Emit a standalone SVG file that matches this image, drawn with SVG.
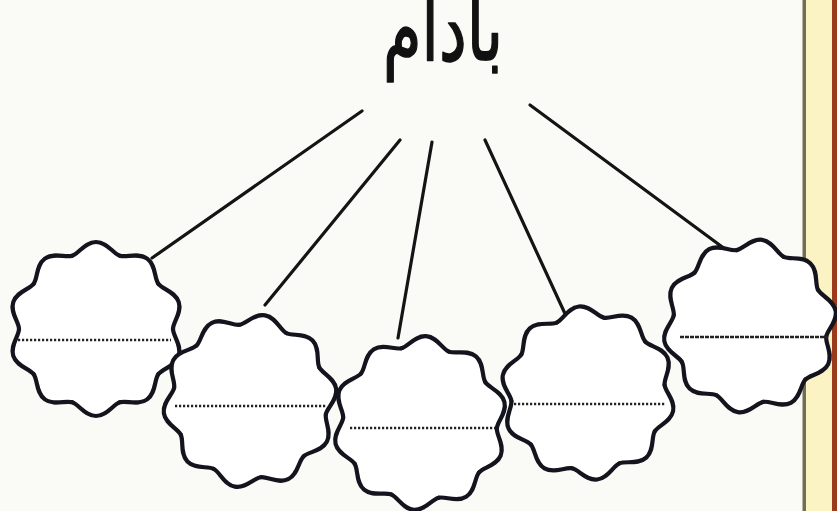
<svg xmlns="http://www.w3.org/2000/svg" xmlns:xlink="http://www.w3.org/1999/xlink" width="837" height="511" viewBox="0 0 837 511">
<style>
.wedge{fill:#ffffff;stroke:#ffffff;stroke-width:1}
.wave{fill:none;stroke:#14141e;stroke-width:4.2;stroke-linecap:round}
.dots{stroke:#222;stroke-width:2.6;stroke-dasharray:2.2 1.8;fill:none}
.con{stroke:#141414;stroke-width:3.2;fill:none;stroke-linecap:round}
.title{font-family:"DejaVu Sans","Noto Sans",sans-serif;font-size:90px;fill:#111;stroke:#111;stroke-width:1.6;stroke-linejoin:round;text-anchor:middle}
</style>
<defs>
<g id="lobe">
<path class="wedge" d="M0,0 L-23.795,-73.232 C-17.138,-75.395 -11,-87 0,-87 C11,-87 17.138,-75.395 23.795,-73.232 Z"/>
</g>
<g id="lobeline">
<path class="wave" d="M-23.795,-73.232 C-17.138,-75.395 -11,-87 0,-87 C11,-87 17.138,-75.395 23.795,-73.232"/>
</g>
<g id="flower">
<circle r="76" fill="#ffffff"/>
<use xlink:href="#lobe"/>
<use xlink:href="#lobe" transform="rotate(36)"/>
<use xlink:href="#lobe" transform="rotate(72)"/>
<use xlink:href="#lobe" transform="rotate(108)"/>
<use xlink:href="#lobe" transform="rotate(144)"/>
<use xlink:href="#lobe" transform="rotate(180)"/>
<use xlink:href="#lobe" transform="rotate(216)"/>
<use xlink:href="#lobe" transform="rotate(252)"/>
<use xlink:href="#lobe" transform="rotate(288)"/>
<use xlink:href="#lobe" transform="rotate(324)"/>
<use xlink:href="#lobeline"/>
<use xlink:href="#lobeline" transform="rotate(36)"/>
<use xlink:href="#lobeline" transform="rotate(72)"/>
<use xlink:href="#lobeline" transform="rotate(108)"/>
<use xlink:href="#lobeline" transform="rotate(144)"/>
<use xlink:href="#lobeline" transform="rotate(180)"/>
<use xlink:href="#lobeline" transform="rotate(216)"/>
<use xlink:href="#lobeline" transform="rotate(252)"/>
<use xlink:href="#lobeline" transform="rotate(288)"/>
<use xlink:href="#lobeline" transform="rotate(324)"/>
</g>
</defs>
<rect width="837" height="511" fill="#fafaf6"/>
<rect x="806" y="0" width="26" height="511" fill="#fbf3c4"/>
<rect x="832" y="0" width="5" height="511" fill="#9b3b1c"/>
<rect x="802.5" y="0" width="3.5" height="511" fill="#6f6f55"/>
<g id="connectors">
<line class="con" x1="362" y1="111" x2="152" y2="258"/>
<line class="con" x1="400" y1="140" x2="265" y2="305"/>
<line class="con" x1="432" y1="142" x2="398" y2="338"/>
<line class="con" x1="485" y1="140" x2="567" y2="318"/>
<line class="con" x1="530" y1="105" x2="725" y2="249"/>
</g>
<g id="title"><text class="title" x="443" y="60" textLength="120" lengthAdjust="spacingAndGlyphs">بادام</text></g>
<g id="node1"><use xlink:href="#flower" transform="translate(96,329)"/><line class="dots" x1="18" y1="340" x2="171" y2="340"/></g>
<g id="node2"><use xlink:href="#flower" transform="translate(250,401) rotate(10)"/><line class="dots" x1="175" y1="406" x2="326" y2="406"/></g>
<g id="node4"><use xlink:href="#flower" transform="translate(588,393) rotate(-6)"/><line class="dots" x1="514" y1="404" x2="665" y2="404"/></g>
<g id="node3"><use xlink:href="#flower" transform="translate(420,423) rotate(4)"/><line class="dots" x1="350" y1="428" x2="495" y2="428"/></g>
<g id="node5"><use xlink:href="#flower" transform="translate(750,326) rotate(8)"/><line class="dots" x1="680" y1="337" x2="828" y2="337" style="stroke-dasharray:4 1"/></g>
</svg>
